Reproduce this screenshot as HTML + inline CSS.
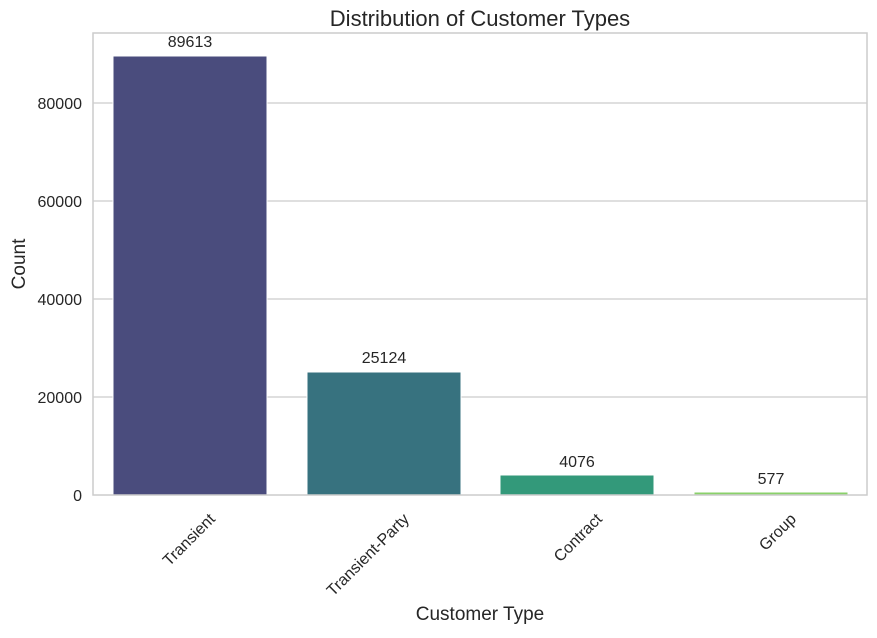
<!DOCTYPE html>
<html><head><meta charset="utf-8"><style>body{margin:0;background:#fff}</style></head><body>
<svg width="877" height="633" xmlns="http://www.w3.org/2000/svg" font-family="Liberation Sans, DejaVu Sans, sans-serif" fill="#262626">
<rect width="877" height="633" fill="#fff"/>
<g stroke="#cccccc" stroke-width="1.2">
<line x1="93" x2="867" y1="397" y2="397"/>
<line x1="93" x2="867" y1="299" y2="299"/>
<line x1="93" x2="867" y1="201" y2="201"/>
<line x1="93" x2="867" y1="103" y2="103"/>
</g>
<rect x="113" y="56" width="154" height="439" fill="#4a4c7d" stroke="#fff" stroke-width="1"/>
<rect x="307" y="372" width="154" height="123" fill="#37727f" stroke="#fff" stroke-width="1"/>
<rect x="500" y="475" width="154" height="20" fill="#33997a" stroke="#fff" stroke-width="1"/>
<rect x="694" y="492" width="154" height="3" fill="#8ad16a" stroke="#fff" stroke-width="1"/>
<rect x="93" y="33" width="774" height="462" fill="none" stroke="#cccccc" stroke-width="1.5"/>
<g font-size="16" text-anchor="middle">
<text x="190" y="47">89613</text>
<text x="384" y="363">25124</text>
<text x="577" y="467">4076</text>
<text x="771" y="484">577</text>
</g>
<g font-size="16" text-anchor="end">
<text x="82" y="501">0</text>
<text x="82" y="403">20000</text>
<text x="82" y="305">40000</text>
<text x="82" y="207">60000</text>
<text x="82" y="109">80000</text>
</g>
<g font-size="16" text-anchor="end">
<text transform="translate(216,520) rotate(-45)">Transient</text>
<text transform="translate(410,520) rotate(-45)">Transient-Party</text>
<text transform="translate(603,520) rotate(-45)">Contract</text>
<text transform="translate(797,520) rotate(-45)">Group</text>
</g>
<text x="480" y="26" font-size="22" text-anchor="middle">Distribution of Customer Types</text>
<text x="480" y="620" font-size="19" text-anchor="middle">Customer Type</text>
<text transform="translate(25,264) rotate(-90)" font-size="19" text-anchor="middle">Count</text>
</svg>
</body></html>
